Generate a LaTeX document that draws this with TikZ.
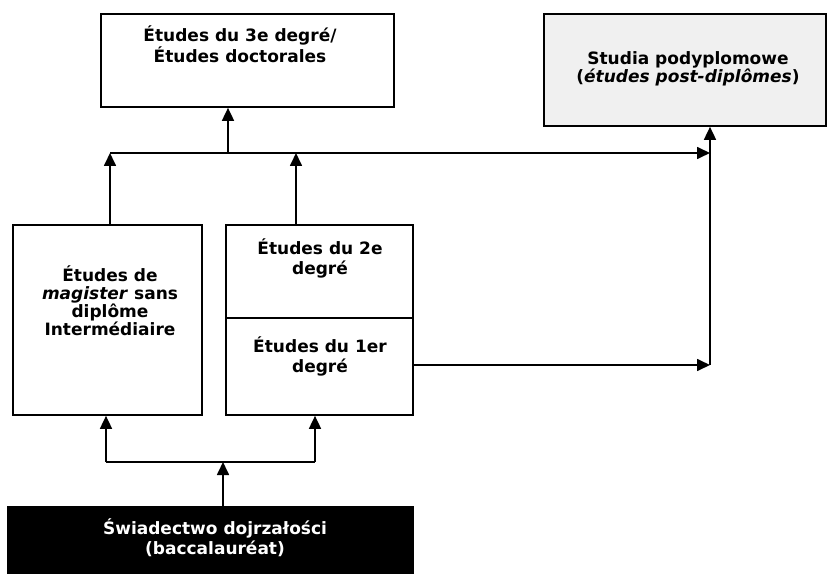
\documentclass[tikz,border=0pt]{standalone}
\usepackage{fontspec}
\setmainfont{DejaVu Sans}
\usetikzlibrary{arrows.meta}
\begin{document}
\begin{tikzpicture}[x=1pt,y=-1pt,
  box/.style={draw=black, line width=1.7pt, inner sep=0pt, fill=white},
  lbl/.style={align=center, font=\fontsize{17}{18}\selectfont\bfseries, inner sep=0pt},
  conn/.style={draw=black, line width=1.7pt},
  arr/.style={conn, -{Triangle[length=13pt,width=12pt]}},
]
\useasboundingbox[fill=white] (0,0) rectangle (828,575);
% boxes
\node[box, minimum width=293pt, minimum height=93pt] (A) at (247.5,60.5) {};
\node[box, fill=black!6, minimum width=282pt, minimum height=112pt] (B) at (685,70) {};
\node[box, minimum width=189pt, minimum height=190pt] (C) at (107.5,320) {};
\node[box, minimum width=187pt, minimum height=93pt] (D2) at (319.5,271.5) {};
\node[box, minimum width=187pt, minimum height=97pt] (D1) at (319.5,366.5) {};
\node[box, fill=black, minimum width=405pt, minimum height=66pt] (E) at (210.5,540) {};
% texts
\node[lbl, anchor=north] (At) at (240,26) {Études du 3e degré/\\Études doctorales};
\node[lbl] (Bt) at (688,69) {Studia podyplomowe\\(\textit{études post-diplômes})};
\node[lbl] (Ct) at (110,301) {Études de\\\textit{magister} sans\\diplôme\\Intermédiaire};
\node[lbl, font=\fontsize{17}{20}\selectfont\bfseries] (D2t) at (320,258) {Études du 2e\\degré};
\node[lbl, font=\fontsize{17}{20}\selectfont\bfseries] (D1t) at (320,356) {Études du 1er\\degré};
\node[lbl, text=white, font=\fontsize{17}{20}\selectfont\bfseries] (Et) at (215,538) {Świadectwo dojrzałości\\(baccalauréat)};
% junction coordinates
\coordinate (Lh) at (110,153);
\coordinate (Dh) at (296,153);
\coordinate (Ah) at (228,153);
\coordinate (T) at (710,153);
\coordinate (R) at (710,365);
\coordinate (Bl) at (106,462);
\coordinate (Bm) at (223,462);
\coordinate (Br) at (315,462);
% connectors (upper)
\draw[arr] (C.north -| Lh) -- (Lh);
\draw[arr] (D2.north -| Dh) -- (Dh);
\draw[arr] (Lh) -- (T);
\draw[arr] (Ah) -- (Ah |- A.south);
\draw[arr] (D1.east |- R) -- (R);
\draw[arr] (R) -- (R |- B.south);
% connectors (lower)
\draw[arr] (E.north -| Bm) -- (Bm);
\draw[conn] (Bl) -- (Br);
\draw[arr] (Bl) -- (Bl |- C.south);
\draw[arr] (Br) -- (Br |- D1.south);
\end{tikzpicture}
\end{document}
